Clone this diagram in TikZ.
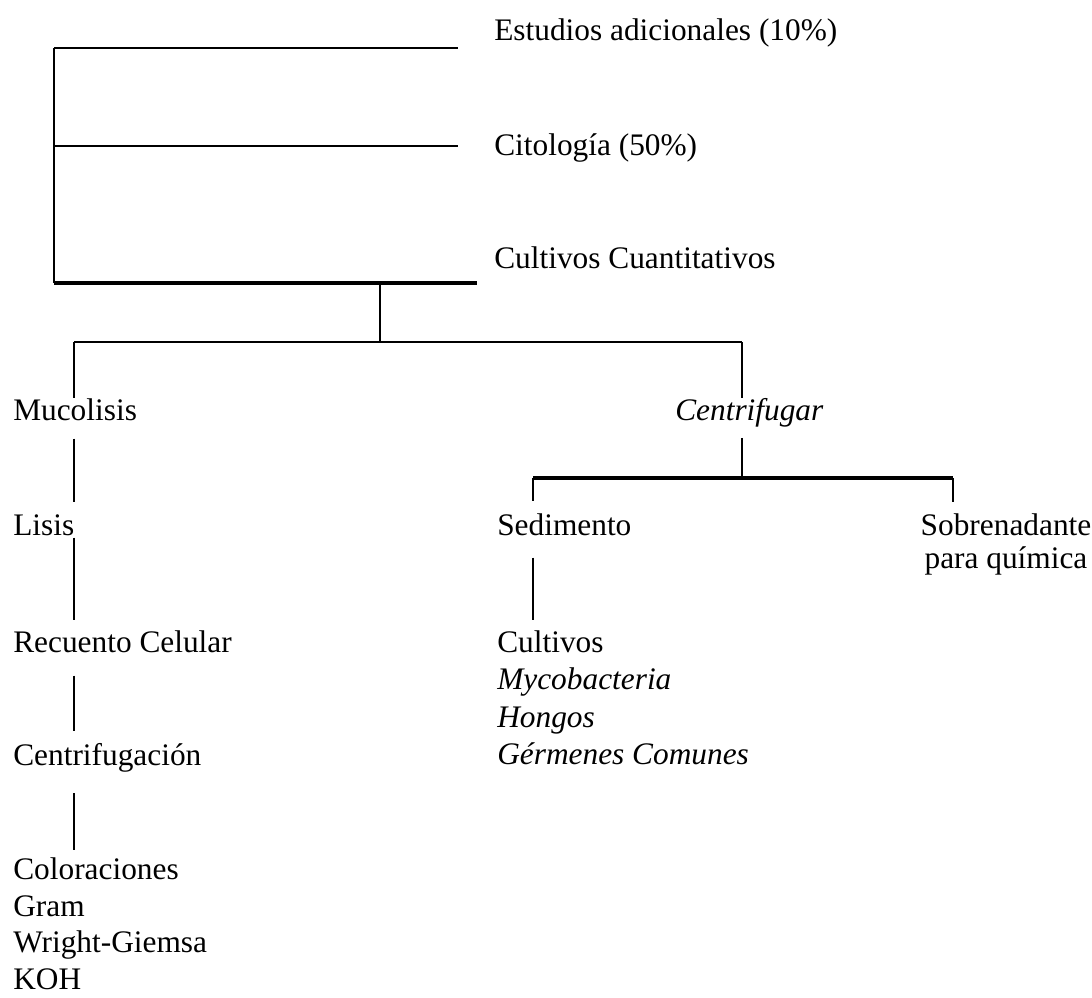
\documentclass[tikz,border=0pt]{standalone}
\usepackage{fontspec}
\setmainfont{Liberation Serif}
\usepackage{tikz}

\tikzset{
  lbl/.style={inner sep=0pt, font=\fontsize{22.3}{26.6}\selectfont},
  ln/.style={line width=1.5pt},
  heavy/.style={line width=2.8pt}
}

\begin{document}
\begin{tikzpicture}
\useasboundingbox (0,0) rectangle (27.3,-24.925);
% labels
\node[lbl, anchor=base west] (estudios) at (12.35,-1.0) {Estudios adicionales (10\%)};
\node[lbl, anchor=base west] (citologia) at (12.35,-3.875) {Citología (50\%)};
\node[lbl, anchor=base west] (cuantitativos) at (12.35,-6.7) {Cultivos Cuantitativos};
\node[lbl, anchor=base west] (mucolisis) at (0.325,-10.5) {Mucolisis};
\node[lbl, anchor=base west] (centrifugar) at (16.875,-10.5) {\textit{Centrifugar}};
\node[lbl, anchor=base west] (lisis) at (0.325,-13.375) {Lisis};
\node[lbl, anchor=base west] (sedimento) at (12.425,-13.375) {Sedimento};
\node[lbl, anchor=north, align=center] (sobrenadante) at (25.15,-12.84) {Sobrenadante\\[-3pt] para química};
\node[lbl, anchor=base west] (recuento) at (0.325,-16.3) {Recuento Celular};
\node[lbl, anchor=north west, align=left] (cultivos) at (12.425,-15.76)
  {Cultivos\\ \textit{Mycobacteria}\\ \textit{Hongos}\\ \textit{Gérmenes Comunes}};
\node[lbl, anchor=base west] (centrifugacion) at (0.325,-19.125) {Centrifugación};
\node[lbl, anchor=north west, align=left, font=\fontsize{22.3}{26}\selectfont] (coloraciones) at (0.325,-21.44)
  {Coloraciones\\ Gram\\ Wright-Giemsa\\ KOH};

% joints
\coordinate (top) at (1.35,-1.2);
\coordinate (mid) at (1.35,-3.65);
\coordinate (bot) at (1.35,-7.075);
\coordinate (stem) at (9.5,-7.075);
\coordinate (split) at (9.5,-8.55);
\coordinate (left) at (1.85,-8.55);
\coordinate (right) at (18.55,-8.55);
\coordinate (split2) at (18.55,-11.95);
\coordinate (sed) at (13.325,-11.95);
\coordinate (sob) at (23.825,-11.95);

% bracket
\draw[ln] (top) -- (bot);
\draw[ln, shorten >=0.9cm] (top) -- (top -| estudios.west);
\draw[ln, shorten >=0.9cm] (mid) -- (mid -| citologia.west);
\draw[heavy, shorten >=0.425cm] (bot) -- (bot -| cuantitativos.west);
\draw[ln] (stem) -- (split);
\draw[ln] (left) -- (right);
\draw[ln] (left) -- (left |- mucolisis.north);
\draw[ln] (right) -- (right |- centrifugar.north);

% left branch
\draw[ln, shorten <=0.45cm, shorten >=0.29cm] (left |- mucolisis.south) -- (left |- lisis.north);
\draw[ln, shorten <=0.05cm, shorten >=0.26cm] (left |- lisis.south) -- (left |- recuento.north);
\draw[ln, shorten <=0.575cm, shorten >=0.29cm] (left |- recuento.south) -- (left |- centrifugacion.north);
\draw[ln, shorten <=0.525cm, shorten >=0.19cm] (left |- centrifugacion.south) -- (left |- coloraciones.north);

% right branch
\draw[ln, shorten <=0.275cm] (right |- centrifugar.south) -- (split2);
\draw[heavy] (sed) -- (sob);
\draw[ln, shorten >=0.29cm] (sed) -- (sed |- sedimento.north);
\draw[ln, shorten >=0.29cm] (sob) -- (sob |- sobrenadante.north);
\draw[ln, shorten <=0.55cm, shorten >=0.26cm] (sed |- sedimento.south) -- (sed |- cultivos.north);
\end{tikzpicture}
\end{document}
